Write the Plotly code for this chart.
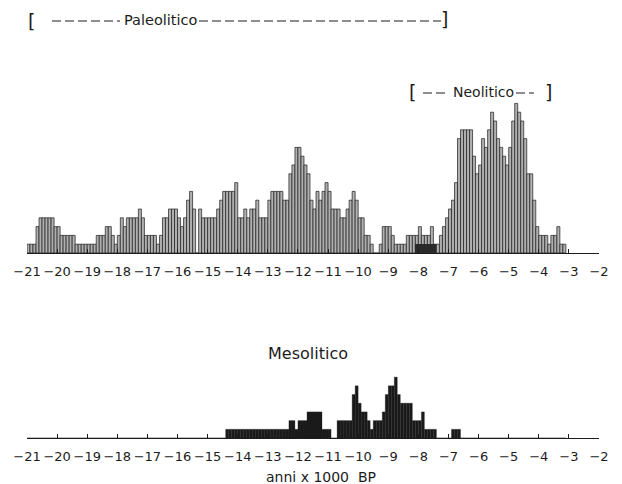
import numpy as np
import plotly.graph_objects as go

# ---- data: counts per 100-year bin, bins from -21.0 (ka BP) upward ----
bin_start_ka = -21.0
bin_width_ka = 0.1

paleo_counts = [
    1, 1, 1, 3, 4, 4, 4, 4, 4, 3,
    3, 2, 2, 2, 2, 2, 1, 1, 1, 1,
    1, 1, 1, 2, 2, 2, 3, 3, 2, 1,
    2, 4, 3, 4, 4, 4, 4, 5, 4, 2,
    2, 2, 2, 1, 2, 4, 4, 5, 5, 5,
    4, 3, 4, 6, 7, 5, 0, 5, 4, 4,
    4, 4, 4, 5, 6, 7, 7, 7, 7, 8,
    4, 4, 5, 4, 5, 5, 6, 4, 4, 4,
    6, 7, 7, 7, 7, 6, 6, 9, 10, 12,
    12, 11, 10, 9, 6, 5, 7, 6, 7, 8,
    7, 5, 5, 5, 4, 4, 5, 6, 7, 6,
    4, 4, 2, 2, 1, 0, 0, 1, 3, 3,
    3, 2, 1, 1, 1, 1, 2, 2, 2, 2,
    3, 2, 2, 2, 3, 1, 1, 2, 3, 4,
    5, 6, 8, 13, 14, 14, 14, 14, 11, 9,
    10, 13, 12, 14, 16, 15, 13, 12, 11, 10,
    12, 15, 17, 16, 15, 13, 9, 9, 6, 3,
    2, 2, 2, 1, 2, 2, 3, 1, 1,
]

dark_counts = [
    0, 0, 0, 0, 0, 0, 0, 0, 0, 0,
    0, 0, 0, 0, 0, 0, 0, 0, 0, 0,
    0, 0, 0, 0, 0, 0, 0, 0, 0, 0,
    0, 0, 0, 0, 0, 0, 0, 0, 0, 0,
    0, 0, 0, 0, 0, 0, 0, 0, 0, 0,
    0, 0, 0, 0, 0, 0, 0, 0, 0, 0,
    0, 0, 0, 0, 0, 0, 0, 0, 0, 0,
    0, 0, 0, 0, 0, 0, 0, 0, 0, 0,
    0, 0, 0, 0, 0, 0, 0, 0, 0, 0,
    0, 0, 0, 0, 0, 0, 0, 0, 0, 0,
    0, 0, 0, 0, 0, 0, 0, 0, 0, 0,
    0, 0, 0, 0, 0, 0, 0, 0, 0, 0,
    0, 0, 0, 0, 0, 0, 0, 0, 0, 1,
    1, 1, 1, 1, 1, 1, 0, 0, 0, 0,
    0, 0, 0, 0, 0, 0, 0, 0, 0, 0,
    0, 0, 0, 0, 0, 0, 0, 0, 0, 0,
    0, 0, 0, 0, 0, 0, 0, 0, 0, 0,
    0, 0, 0, 0, 0, 0, 0, 0, 0,
]

meso_counts = [
    0, 0, 0, 0, 0, 0, 0, 0, 0, 0,
    0, 0, 0, 0, 0, 0, 0, 0, 0, 0,
    0, 0, 0, 0, 0, 0, 0, 0, 0, 0,
    0, 0, 0, 0, 0, 0, 0, 0, 0, 0,
    0, 0, 0, 0, 0, 0, 0, 0, 0, 0,
    0, 0, 0, 0, 0, 0, 0, 0, 0, 0,
    0, 0, 0, 0, 0, 0, 1, 1, 1, 1,
    1, 1, 1, 1, 1, 1, 1, 1, 1, 1,
    1, 1, 1, 1, 1, 1, 1, 2, 2, 1,
    2, 2, 2, 3, 3, 3, 3, 3, 1, 1,
    1, 0, 0, 2, 2, 2, 2, 2, 5, 6,
    4, 3, 3, 2, 1, 2, 2, 2, 3, 5,
    6, 6, 7, 5, 4, 4, 4, 4, 2, 2,
    2, 3, 1, 1, 1, 1, 0, 0, 0, 0,
    0, 1, 1, 1, 0, 0, 0, 0, 0, 0,
    0, 0, 0, 0, 0, 0, 0, 0, 0, 0,
    0, 0, 0, 0, 0, 0, 0, 0, 0, 0,
    0, 0, 0, 0, 0, 0, 0, 0, 0,
]

tick_values = [-21, -20, -19, -18, -17, -16, -15, -14, -13, -12, -11,
               -10, -9, -8, -7, -6, -5, -4, -3, -2]
tick_labels = ["\u221221", "\u221220", "\u221219", "\u221218", "\u221217",
               "\u221216", "\u221215", "\u221214", "\u221213", "\u221212",
               "\u221211", "\u221210", "\u22129", "\u22128", "\u22127",
               "\u22126", "\u22125", "\u22124", "\u22123", "\u22122"]

# ---- figure ----
W, H = 622, 484
INK = "#1c1c1c"
FONT = "DejaVu Sans"


def px(x):
    return x / W


def py(y):
    return 1 - y / H


centers = bin_start_ka + bin_width_ka * (np.arange(len(paleo_counts)) + 0.5)

fig = go.Figure()
fig.add_trace(go.Bar(
    x=centers, y=paleo_counts, width=bin_width_ka,
    marker=dict(color="#c2c2c2", line=dict(color=INK, width=0.7),
                pattern=dict(shape="|", fgcolor="#5a5a5a", size=2, solidity=0.35)),
    xaxis="x", yaxis="y", hoverinfo="skip"))
fig.add_trace(go.Bar(
    x=centers, y=dark_counts, width=bin_width_ka,
    marker=dict(color="#2a2a2a", line=dict(width=0)),
    xaxis="x", yaxis="y", hoverinfo="skip"))
fig.add_trace(go.Bar(
    x=centers, y=meso_counts, width=bin_width_ka,
    marker=dict(color="#1a1a1a", line=dict(color="#1a1a1a", width=0.3)),
    xaxis="x2", yaxis="y2", hoverinfo="skip"))

xdom = [px(27), px(599)]
axis_common = dict(
    range=[-21, -2], tickmode="array", tickvals=tick_values, ticktext=tick_labels,
    showline=True, linecolor=INK, linewidth=1.2, ticks="inside", ticklen=4,
    tickwidth=1, tickcolor=INK, showgrid=False, zeroline=False, tickangle=0,
    tickfont=dict(family=FONT, size=13, color=INK), ticklabelstandoff=6,
    fixedrange=True, automargin=False)

fig.update_layout(
    width=W, height=H, margin=dict(l=0, r=0, t=0, b=0, pad=0, autoexpand=False),
    paper_bgcolor="white", plot_bgcolor="white", showlegend=False,
    barmode="overlay", bargap=0,
    xaxis=dict(domain=xdom, anchor="y", **axis_common),
    yaxis=dict(domain=[py(253), py(100)], range=[0, 153 / 8.8], visible=False,
               automargin=False),
    xaxis2=dict(domain=xdom, anchor="y2", **axis_common),
    yaxis2=dict(domain=[py(438), py(370)], range=[0, 68 / 8.7], visible=False,
                automargin=False),
)

ann = []
shapes = []


def text(x, y, s, size, anchor="center"):
    ann.append(dict(x=px(x), y=py(y), xref="paper", yref="paper", text=s,
                    showarrow=False, xanchor=anchor, yanchor="middle",
                    font=dict(family=FONT, size=size, color=INK)))


def dashes(x0, x1, y):
    shapes.append(dict(type="line", xref="paper", yref="paper",
                       x0=px(x0), x1=px(x1), y0=py(y), y1=py(y),
                       line=dict(color=INK, width=1.2, dash="9px,4px")))


# Paleolitico bracket
text(31, 21, "[", 19)
dashes(52, 120, 21)
text(122, 20, "Paleolitico", 14.5, "left")
dashes(199, 441, 21)
text(444, 19, "]", 19)

# Neolitico bracket
text(412, 92, "[", 19)
dashes(423, 449, 93)
text(451, 92, "Neolitico", 14, "left")
dashes(516, 534, 93)
text(548, 92, "]", 19)

text(308, 353, "Mesolitico", 16)
text(321, 477, "anni x 1000  BP", 14)

fig.update_layout(annotations=ann, shapes=shapes)

post = (
    "document.documentElement.style.margin='0';"
    "document.body.style.margin='0';"
    "document.documentElement.style.overflow='hidden';"
    "document.body.style.overflow='hidden';"
    "var gd=document.getElementById('{plot_id}');"
    "Plotly.relayout(gd,{width:622,height:484});"
)
fig.write_html("out.html",
               config={"displayModeBar": False, "staticPlot": True, "responsive": False},
               post_script=post)
